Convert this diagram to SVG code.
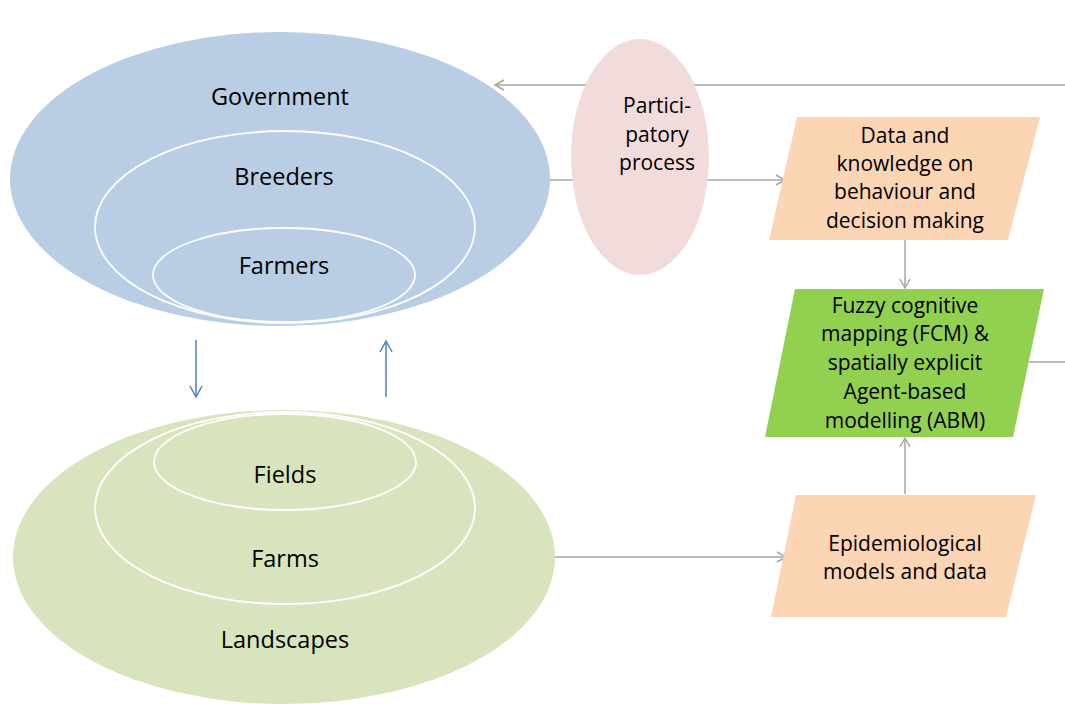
<svg xmlns="http://www.w3.org/2000/svg" width="1065" height="704" viewBox="0 0 1065 704">
<defs>
<marker id="ag" markerWidth="12" markerHeight="12" refX="10" refY="6" orient="auto" markerUnits="userSpaceOnUse">
<path d="M1,1 L10,6 L1,11" fill="none" stroke="#a6a6a6" stroke-width="1.5"/>
</marker>
<marker id="ab" markerWidth="14" markerHeight="14" refX="12" refY="7" orient="auto" markerUnits="userSpaceOnUse">
<path d="M1,1 L12,7 L1,13" fill="none" stroke="#4f81bd" stroke-width="1.5"/>
</marker>
<style>
.t{font-family:"Open Sans","Liberation Sans",sans-serif;fill:#000;text-anchor:middle}
.big{font-size:23.5px}
.sm{font-size:21px}
.gl{fill:none;stroke:#a6a6a6;stroke-width:1.5}
.bl{fill:none;stroke:#4f81bd;stroke-width:1.5}
.in{fill:none;stroke:#fff;stroke-width:1.8}
</style>
</defs>
<rect width="1065" height="704" fill="#fff"/>
<g id="connectors">
<path class="gl" d="M1065,85 L495,85" marker-end="url(#ag)"/>
<path class="gl" d="M550,180 L785,180" marker-end="url(#ag)"/>
<path class="gl" d="M905,240 L905,288" marker-end="url(#ag)"/>
<path class="gl" d="M905,494 L905,438" marker-end="url(#ag)"/>
<path class="gl" d="M555,557 L786,557" marker-end="url(#ag)"/>
<path class="gl" d="M1029,362 L1065,362"/>
<path class="bl" d="M196,340 L196,397" marker-end="url(#ab)"/>
<path class="bl" d="M386,397 L386,341" marker-end="url(#ab)"/>
</g>
<g id="government">
<ellipse cx="280" cy="179" rx="270" ry="147" fill="#b9cde5"/>
<text class="t big" x="280" y="105">Government</text>
</g>
<g id="breeders">
<ellipse class="in" cx="285" cy="227" rx="190" ry="96"/>
<text class="t big" x="284" y="185">Breeders</text>
</g>
<g id="farmers">
<ellipse class="in" cx="284" cy="275" rx="131" ry="47"/>
<text class="t big" x="284" y="274">Farmers</text>
</g>
<g id="landscapes">
<ellipse cx="284" cy="557" rx="271" ry="147" fill="#d7e4bd"/>
<text class="t big" x="285" y="648">Landscapes</text>
</g>
<g id="farms">
<ellipse class="in" cx="285" cy="508" rx="190" ry="96"/>
<text class="t big" x="285" y="567">Farms</text>
</g>
<g id="fields">
<ellipse class="in" cx="285" cy="462" rx="131" ry="48"/>
<text class="t big" x="285" y="483">Fields</text>
</g>
<g id="participatory">
<ellipse cx="640" cy="157" rx="69" ry="118" fill="#f2dcdb"/>
<text class="t sm" x="657" y="113">Partici-</text>
<text class="t sm" x="657" y="142">patory</text>
<text class="t sm" x="657" y="170">process</text>
</g>
<g id="data-knowledge">
<polygon points="797,117 1040,117 1008,240 769,240" fill="#fcd5b5"/>
<text class="t sm" x="905" y="143">Data and</text>
<text class="t sm" x="905" y="171">knowledge on</text>
<text class="t sm" x="905" y="199">behaviour and</text>
<text class="t sm" x="905" y="228">decision making</text>
</g>
<g id="fcm-abm">
<polygon points="795,289 1044,289 1013,437 765,437" fill="#92d050"/>
<text class="t sm" x="905" y="313">Fuzzy cognitive</text>
<text class="t sm" x="905" y="341">mapping (FCM) &amp;</text>
<text class="t sm" x="905" y="370">spatially explicit</text>
<text class="t sm" x="905" y="399">Agent-based</text>
<text class="t sm" x="905" y="428">modelling (ABM)</text>
</g>
<g id="epidemiological">
<polygon points="796,495 1036,495 1006,617 771,617" fill="#fcd5b5"/>
<text class="t sm" x="905" y="551">Epidemiological</text>
<text class="t sm" x="905" y="579">models and data</text>
</g>
</svg>
